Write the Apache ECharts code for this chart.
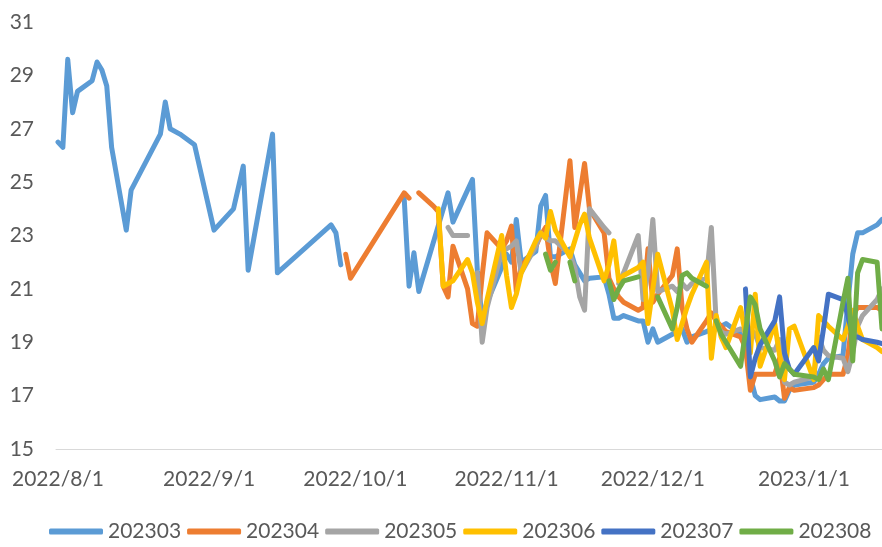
<!DOCTYPE html>
<html>
<head>
<meta charset="utf-8">
<script src="https://cdn.jsdelivr.net/npm/echarts@6/dist/echarts.min.js"></script>
<style>
html,body{margin:0;padding:0;background:#fff;}
#chart{width:882px;height:547px;}
</style>
</head>
<body>
<div id="chart"></div>
<script>
// ---- data (dates as M/D; Aug–Dec = 2022, Jan = 2023) ----
const seriesNames = ['202303','202304','202305','202306','202307','202308'];
const seriesColors = ['#5B9BD5','#ED7D31','#A5A5A5','#FFC000','#4472C4','#70AD47'];
const xTickLabels = ['2022/8/1','2022/9/1','2022/10/1','2022/11/1','2022/12/1','2023/1/1'];
const yTicks = [15,17,19,21,23,25,27,29,31];

const d202303 = ['8/1','8/2','8/3','8/4','8/5','8/8','8/9','8/10','8/11','8/12','8/15','8/16','8/22','8/23','8/24','8/26','8/29',
  '9/2','9/6','9/8','9/9','9/14','9/15','9/26','9/27','9/28','9/29',
  '10/11','10/12','10/13','10/14','10/20','10/21','10/24','10/25','10/26','10/27','10/28','10/31',
  '11/1','11/2','11/3','11/4','11/7','11/8','11/9','11/10','11/11','11/14','11/15','11/16','11/17','11/18','11/21','11/22','11/23','11/24','11/25','11/28','11/29','11/30',
  '12/1','12/2','12/5','12/6','12/7','12/8','12/9','12/12','12/13','12/14','12/15','12/16','12/19','12/20','12/21','12/22','12/23','12/26','12/27','12/28','12/29','12/30',
  '1/3','1/4','1/5','1/6','1/9','1/10','1/11','1/12','1/13','1/16','1/17'];
const v202303 = [26.5,26.3,29.6,27.6,28.4,28.8,29.5,29.2,28.6,26.3,23.2,24.7,26.8,28.0,27.0,26.8,26.4,
  23.2,24.0,25.6,21.7,26.8,21.6,23.4,23.1,21.9,null,
  24.4,21.1,22.35,20.9,24.6,23.5,24.7,25.1,21.7,19.8,20.5,21.8,
  22.3,22.0,23.6,22.0,22.4,24.1,24.5,22.2,22.2,22.5,21.9,21.6,21.3,21.4,21.45,20.8,19.9,19.9,20.0,19.8,19.8,19.0,
  19.5,19.0,19.3,19.4,19.5,19.0,19.2,19.4,19.5,19.5,19.6,19.7,19.3,18.8,17.7,17.0,16.85,16.95,16.8,16.8,17.2,17.4,
  17.5,17.8,18.2,18.4,18.5,20.5,22.3,23.1,23.1,23.4,23.6];

const d202304 = ['9/29','9/30','10/11','10/12','10/13','10/14','10/17','10/18','10/19','10/20','10/21','10/24','10/25','10/26','10/27','10/28','10/31',
  '11/1','11/2','11/3','11/4','11/7','11/8','11/9','11/10','11/11','11/14','11/15','11/16','11/17','11/18','11/21','11/22','11/23','11/24','11/25','11/28','11/29','11/30',
  '12/1','12/2','12/5','12/6','12/7','12/8','12/9','12/12','12/13','12/14','12/15','12/16','12/19','12/20','12/21','12/22','12/23','12/26','12/27','12/28','12/29','12/30',
  '1/3','1/4','1/5','1/6','1/9','1/10','1/11','1/12','1/13','1/16','1/17'];
const v202304 = [22.3,21.4,24.6,24.4,null,24.6,24.1,23.9,21.1,20.7,22.6,21.0,19.7,19.6,21.5,23.1,22.5,
  22.8,23.35,20.9,21.8,22.6,23.0,23.3,22.0,21.2,25.8,23.3,24.5,25.7,24.0,23.1,21.4,21.0,20.7,20.5,20.2,20.3,22.5,
  20.5,20.8,21.5,22.5,20.3,19.5,19.0,19.8,20.1,19.8,19.6,19.4,19.2,18.8,17.2,17.8,17.8,17.8,18.4,16.9,17.3,17.2,
  17.3,17.4,17.6,17.8,17.8,18.5,20.0,20.3,20.3,20.3,20.2];

const d202305 = ['10/20','10/21','10/24','10/25','10/26','10/27','10/28','10/31',
  '11/1','11/2','11/3','11/4','11/7','11/8','11/9','11/10','11/11','11/14','11/15','11/16','11/17','11/18','11/21','11/22','11/23','11/24','11/25','11/28','11/29','11/30',
  '12/1','12/2','12/5','12/6','12/7','12/8','12/9','12/12','12/13','12/14','12/15','12/16','12/19','12/20','12/21','12/22','12/23','12/26','12/27','12/28','12/29','12/30',
  '1/3','1/4','1/5','1/6','1/9','1/10','1/11','1/12','1/13','1/16','1/17'];
const v202305 = [23.3,23.0,23.0,null,21.6,19.0,20.3,22.4,
  22.5,22.6,22.8,21.6,22.6,23.1,22.9,22.8,22.8,22.3,21.8,20.7,20.2,24.0,23.3,23.1,null,21.2,21.6,23.0,20.6,21.6,
  23.6,20.9,21.1,20.9,21.2,21.0,21.2,21.4,23.3,19.7,19.4,19.3,19.5,19.4,19.5,19.3,18.8,18.7,19.1,17.5,17.4,17.5,
  17.7,19.2,18.7,18.5,18.4,17.9,18.6,19.6,20.0,20.6,21.0];

const d202306 = ['10/18','10/19','10/20','10/21','10/24','10/25','10/26','10/27','10/28','10/31',
  '11/1','11/2','11/3','11/4','11/7','11/8','11/9','11/10','11/11','11/14','11/15','11/16','11/17','11/18','11/21','11/22','11/23','11/24','11/25','11/28','11/29','11/30',
  '12/1','12/2','12/5','12/6','12/7','12/8','12/9','12/12','12/13','12/14','12/15','12/16','12/19','12/20','12/21','12/22','12/23','12/26','12/27','12/28','12/29','12/30',
  '1/3','1/4','1/5','1/6','1/9','1/10','1/11','1/12','1/13','1/16','1/17'];
const v202306 = [24.0,21.1,21.2,21.3,22.1,21.6,20.5,19.7,20.6,23.0,
  21.5,20.3,20.8,21.6,22.8,23.1,22.9,23.9,23.2,22.2,22.8,23.4,23.8,22.9,21.3,21.9,22.8,21.3,21.5,21.8,22.0,19.7,
  21.0,22.3,20.2,19.1,19.7,20.3,20.8,22.0,18.4,20.0,19.2,18.8,20.3,19.3,18.6,20.8,18.1,19.7,18.5,17.6,19.5,19.6,
  17.6,20.0,19.8,19.6,19.1,19.6,20.2,19.6,19.1,18.8,18.65];

const d202307 = ['12/20','12/21','12/22','12/23','12/26','12/27','12/28','12/29','12/30',
  '1/3','1/4','1/5','1/6','1/9','1/10','1/11','1/12','1/13','1/16','1/17'];
const v202307 = [21.0,17.7,18.4,18.9,19.8,20.7,18.6,18.0,17.8,
  18.8,18.3,19.5,20.8,20.6,20.0,19.2,19.2,19.1,19.0,18.95];

const d202308 = ['11/9','11/10','11/11','11/12','11/14','11/15','11/16','11/22','11/23','11/24','11/25','11/28','11/29',
  '12/2','12/5','12/6','12/7','12/8','12/9','12/12','12/13','12/14','12/15','12/16','12/19','12/20','12/21','12/22','12/23','12/26','12/27','12/28','12/29','12/30',
  '1/3','1/4','1/5','1/6','1/9','1/10','1/11','1/12','1/13','1/16','1/17'];
const v202308 = [22.3,21.7,22.0,null,22.0,21.3,null,21.3,20.6,21.0,21.3,21.45,null,
  20.7,19.5,20.3,21.5,21.6,21.4,21.1,null,19.8,19.3,19.0,18.1,19.4,20.7,20.4,19.5,18.3,17.7,18.2,18.0,17.8,
  17.7,17.6,18.0,17.6,20.5,21.4,18.3,21.6,22.1,22.0,19.5];

// ---- helpers ----
function toTime(md) {
  const p = md.split('/').map(Number);
  const year = p[0] >= 7 ? 2022 : 2023;
  return new Date(year, p[0] - 1, p[1]).getTime();
}
function tickTime(label) {
  const p = label.split('/').map(Number);
  return new Date(p[0], p[1] - 1, p[2]).getTime();
}
const DAY = 86400000;
const xMin = new Date(2022, 7, 1).getTime() - 0.41 * DAY;
const xMax = new Date(2023, 0, 17).getTime();
const tickTimes = xTickLabels.map(tickTime);
const tickMap = {};
tickTimes.forEach((t, i) => { tickMap[t] = xTickLabels[i]; });

const allDates = [d202303, d202304, d202305, d202306, d202307, d202308];
const allVals = [v202303, v202304, v202305, v202306, v202307, v202308];

const FONT = 'Lato, "Open Sans", sans-serif';
const TXT = '#595959';

const series = seriesNames.map((name, i) => ({
  name: name,
  type: 'line',
  symbol: 'none',
  showSymbol: false,
  connectNulls: false,
  data: allDates[i].map((d, j) => [toTime(d), allVals[i][j]]),
  lineStyle: { color: seriesColors[i], width: 5, cap: 'round', join: 'round' },
  itemStyle: { color: seriesColors[i] },
  emphasis: { disabled: true },
  animation: false
}));

const chart = echarts.init(document.getElementById('chart'), null, { renderer: 'canvas' });
chart.setOption({
  animation: false,
  backgroundColor: '#ffffff',
  color: seriesColors,
  grid: { left: 56, right: 0, top: 22, bottom: 98, containLabel: false },
  xAxis: {
    type: 'value',
    min: xMin,
    max: xMax,
    scale: true,
    axisLine: { show: true, lineStyle: { color: '#D9D9D9', width: 1 } },
    axisTick: { show: false },
    splitLine: { show: false },
    axisLabel: {
      customValues: tickTimes,
      formatter: function (v) { return tickMap[v] || ''; },
      color: TXT,
      fontFamily: FONT,
      fontSize: 21,
      margin: 20,
      hideOverlap: false
    }
  },
  yAxis: {
    type: 'value',
    min: yTicks[0],
    max: yTicks[yTicks.length - 1],
    interval: yTicks[1] - yTicks[0],
    axisLine: { show: false },
    axisTick: { show: false },
    splitLine: { show: false },
    axisLabel: { color: TXT, fontFamily: FONT, fontSize: 21, margin: 22 }
  },
  legend: {
    data: seriesNames,
    top: 521,
    left: 49,
    width: 1200,
    padding: 0,
    icon: 'roundRect',
    itemWidth: 54,
    itemHeight: 6,
    itemGap: 6,
    textStyle: { color: TXT, fontFamily: FONT, fontSize: 21 }
  },
  series: series
});
</script>
</body>
</html>
